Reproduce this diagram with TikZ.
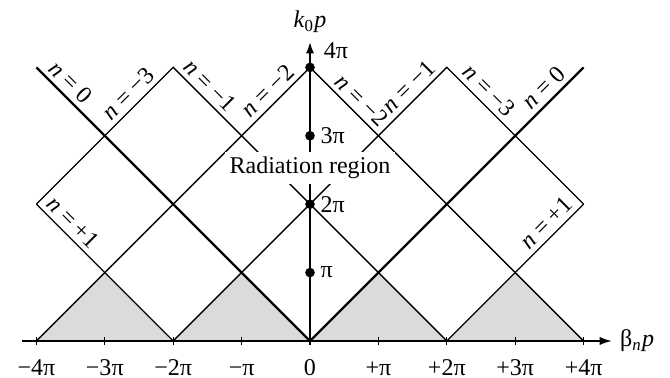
\documentclass[tikz,border=0pt]{standalone}
\usepackage{fontspec}
\setmainfont{Liberation Serif}
\usetikzlibrary{arrows.meta}

\begin{document}
\begin{tikzpicture}[
  fina/.style={line width=0.55pt},
  gruesa/.style={line width=1pt},
  etiq/.style={sloped, above, inner sep=2pt},
  marca/.style={below=4pt, text height=7pt, text depth=0pt},
  punto/.style={circle, fill, inner sep=0pt, minimum size=4pt},
  flecha/.style={-{Latex[length=5pt,width=3.4pt]}}
]
\useasboundingbox (-4.532,-0.541) rectangle (5.263,4.985);

% Puntos de la figura
\foreach \x in {-4,...,4}
	\coordinate (b\x) at (\x,0);
\coordinate (t0) at (0,4);
\coordinate (tizq) at (-2,4);
\coordinate (tder) at (2,4);
\coordinate (tizq0) at (-4,4);
\coordinate (tder0) at (4,4);
\coordinate (izq) at (-4,2);
\coordinate (der) at (4,2);
\coordinate (ejeX0) at (-4.21,0);
\coordinate (ejeX1) at (4.41,0);
\coordinate (ejeY) at (0,4.38);

% Zonas sombreadas
\foreach \x in {-4,-2,0,2}
	\fill[black!14] (b\x) -- ++(1,1) -- ++(1,-1) -- cycle;

% Rectas
\draw[gruesa] (tizq0) -- node[etiq, pos=0.09] {\textit{n} = 0} (b0)
	-- node[etiq, pos=0.89] {\textit{n} = 0} (tder0);
\draw[fina] (izq) -- node[etiq, pos=0.74] {\textit{n} = −3} (tizq)
	-- node[etiq, pos=0.1] {\textit{n} = −1} (b2);
\draw[fina] (izq) -- node[etiq, pos=0.2] {\textit{n} = +1} (b-2);
\draw[fina] (b-4) -- node[etiq, pos=0.88] {\textit{n} = −2} (t0)
	-- node[etiq, pos=0.155] {\textit{n} = −2} (b4);
\draw[fina] (b-2) -- node[etiq, pos=0.895] {\textit{n} = −1} (tder)
	-- node[etiq, pos=0.24] {\textit{n} = −3} (der);
\draw[fina] (b2) -- node[etiq, pos=0.795] {\textit{n} = +1} (der);

% Ejes
\draw[fina, flecha] (ejeX0) -- (ejeX1);
\node[right] (beta) at (ejeX1) {β\textsubscript{\textit{n}}\textit{p}};
\draw[gruesa, flecha] (b0) -- (ejeY);
\node[above] (k0) at (ejeY) {\textit{k}\textsubscript{0}\textit{p}};

\foreach \x/\t in {-4/−4π, -3/−3π, -2/−2π, -1/−π, 0/0, 1/+π, 2/+2π, 3/+3π, 4/+4π}{
	\draw[fina] (b\x) ++(0,-0.06) -- ++(0,0.12);
	\node[marca] (m\x) at (b\x) {\t};
}

\foreach \k/\t in {1/π, 2/2π, 3/3π}{
	\node[punto] (p\k) at (0,\k) {};
	\node[anchor=west, inner sep=2pt] (l\k) at (p\k.east) {\t};
}
\node[punto] (p4) at (t0) {};
\node[anchor=south west, inner sep=2pt, xshift=2pt] (l4) at (p4.north east) {4π};

\node[fill=white, inner sep=2pt] (rad) at (0,2.53) {Radiation region};
\end{tikzpicture}
\end{document}
